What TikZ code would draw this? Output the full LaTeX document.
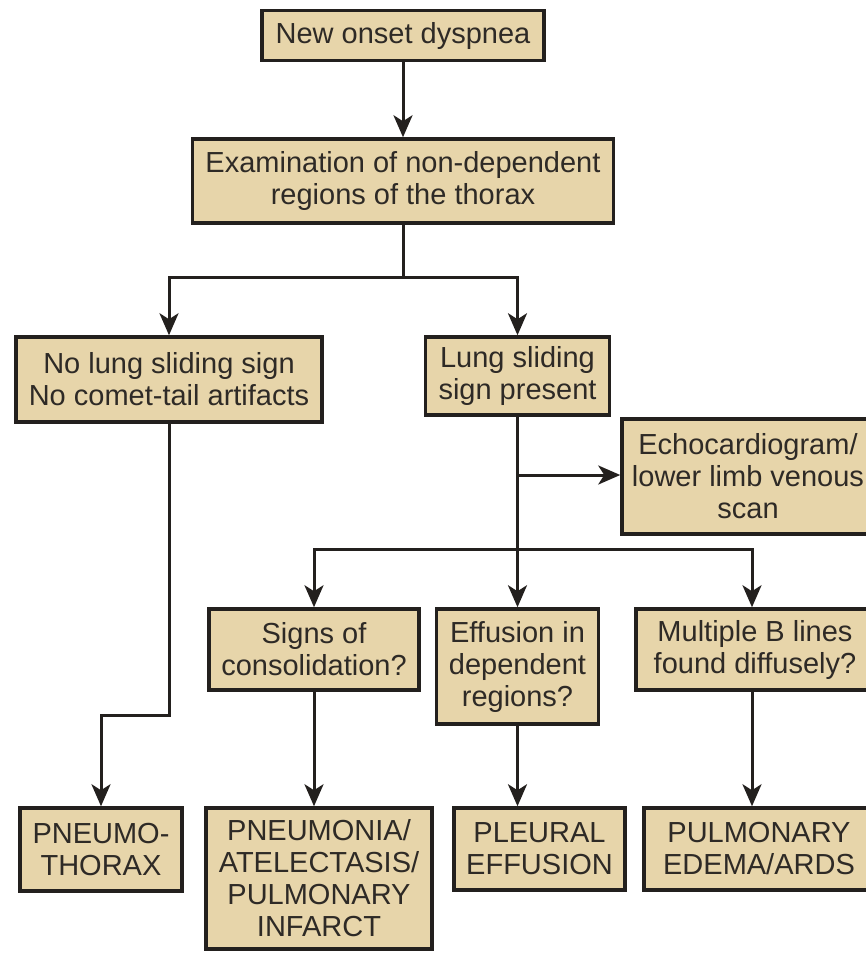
\documentclass[tikz,border=0pt]{standalone}
\usepackage{fontspec}
\setmainfont{Liberation Sans}
\usepackage{tikz}
\usetikzlibrary{arrows.meta,positioning}
\definecolor{tanfill}{RGB}{231,213,170}
\definecolor{inkline}{RGB}{35,32,30}
\definecolor{inktext}{RGB}{46,42,38}
\tikzset{every node/.append style={execute at begin node={\fontsize{14.5pt}{16pt}\selectfont}}}

\begin{document}
\begin{tikzpicture}[x=0.5pt,y=-0.5pt,
  box/.style={draw=inkline,fill=tanfill,line width=1.75pt,align=center,inner sep=0pt,text=inktext},
  arr/.style={draw=inkline,line width=1.5pt,-{Stealth[length=11pt,width=9.5pt,inset=3pt]}},
  wire/.style={draw=inkline,line width=1.5pt}]
\clip (0,0) rectangle (866,954);
\node[box,minimum width=141pt,minimum height=25pt] (dysp) at (403,35.5) {New onset dyspnea};
\node[box,minimum width=210.5pt,minimum height=42pt] (exam) at (403,181) {Examination of non-dependent\\ regions of the thorax};
\node[box,minimum width=153pt,minimum height=42.5pt] (nolung) at (169,379.5) {No lung sliding sign\\ No comet-tail artifacts};
\node[box,minimum width=92pt,minimum height=39pt] (lung) at (517.5,376) {Lung sliding\\ sign present};
\node[box,minimum width=126pt,minimum height=57.5pt] (echo) at (748,476.5) {Echocardiogram/\\ lower limb venous\\ scan};
\node[box,minimum width=105pt,minimum height=40.5pt] (cons) at (314,649.5) {Signs of\\ consolidation?};
\node[box,minimum width=81pt,minimum height=57.5pt] (eff) at (517.5,666.5) {Effusion in\\ dependent\\ regions?};
\node[box,minimum width=119pt,minimum height=40.5pt] (multi) at (755,649.5) {Multiple B lines\\ found diffusely?};
\node[box,minimum width=81pt,minimum height=41.5pt] (pneumo) at (101,849.5) {PNEUMO-\\ THORAX};
\node[box,minimum width=113pt,minimum height=70.5pt] (pneumonia) at (319,878.5) {PNEUMONIA/\\ ATELECTASIS/\\ PULMONARY\\ INFARCT};
\node[box,minimum width=85.5pt,minimum height=41pt] (pleural) at (539.5,849) {PLEURAL\\ EFFUSION};
\node[box,minimum width=115pt,minimum height=41pt] (pulm) at (759,849) {PULMONARY\\ EDEMA/ARDS};
\coordinate (split1) at (403,277);
\coordinate (echobr) at (517.5,475);
\coordinate (split2) at (517.5,549);
\coordinate (jog) at (169,715);
\coordinate (bcol) at (752,549);
\draw[arr] (dysp) -- (exam);
\draw[wire] (exam.south) -- (split1);
\draw[arr] (split1) -| (nolung);
\draw[arr] (split1) -| (lung);
\draw[arr] (lung) -- (eff);
\draw[arr] (echobr) -- (echo.west |- echobr);
\draw[arr] (split2) -| (cons);
\draw[arr] (split2) -- (bcol) -- (bcol |- multi.north);
\draw[arr] (nolung.south) -- (jog) -| (pneumo);
\draw[arr] (cons.south) -- (cons.south |- pneumonia.north);
\draw[arr] (eff.south) -- (eff.south |- pleural.north);
\draw[arr] (bcol |- multi.south) -- (bcol |- pulm.north);
\end{tikzpicture}
\end{document}
